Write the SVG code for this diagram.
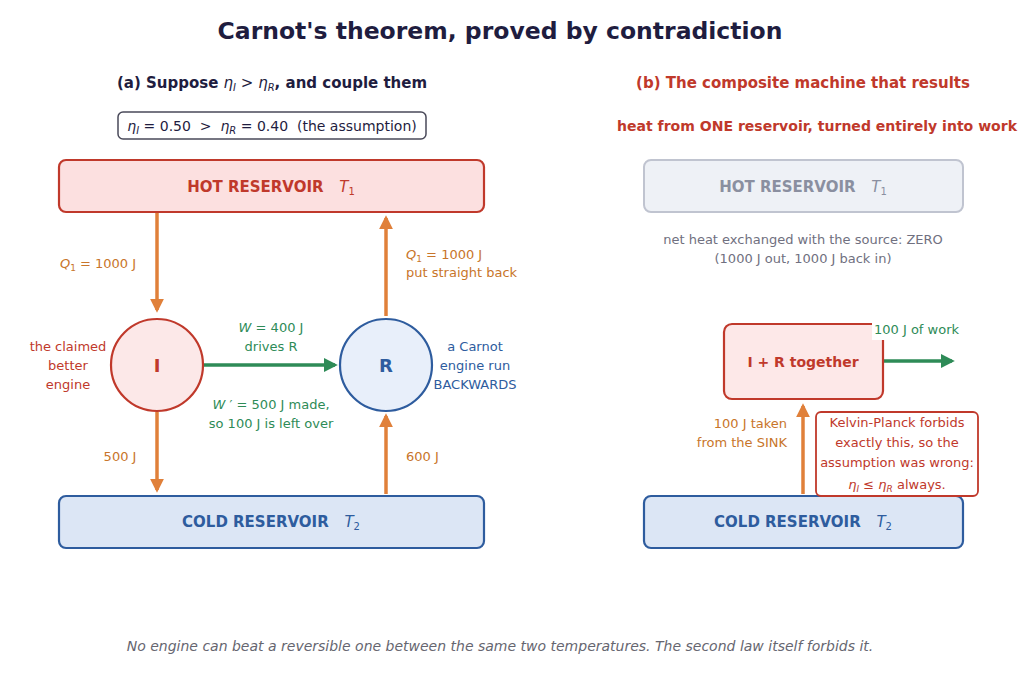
<svg xmlns="http://www.w3.org/2000/svg" width="1024" height="673" viewBox="0 0 1024 673">
<style>
text{font-family:"DejaVu Sans",sans-serif;white-space:pre}
.t{font-size:23.5px;font-weight:bold;fill:#1f1d3f}
.h{font-size:15px;font-weight:bold}
.s{font-size:13px}
.m{font-style:italic}
.or{fill:#c8752a}.gr{fill:#2e8b57}.rd{fill:#c0392b}.bl{fill:#2e5c9e}.gy{fill:#707080}
.ao{stroke:#e0803a;stroke-width:3.5;fill:none}
.ag{stroke:#2e8b57;stroke-width:3.5;fill:none}
</style>
<defs>
<marker id="mo" viewBox="0 0 10 10" refX="8" refY="5" markerWidth="4" markerHeight="4" orient="auto"><path d="M0,0L10,5L0,10z" fill="#e0803a"/></marker>
<marker id="mg" viewBox="0 0 10 10" refX="8" refY="5" markerWidth="4" markerHeight="4" orient="auto"><path d="M0,0L10,5L0,10z" fill="#2e8b57"/></marker>
</defs>
<rect width="1024" height="673" fill="#fff"/>
<text class="t" x="500" y="39" text-anchor="middle">Carnot's theorem, proved by contradiction</text>
<text class="h" x="272" y="88" text-anchor="middle" fill="#1f1d3f">(a) Suppose <tspan class="m" font-weight="normal">η</tspan><tspan class="m" font-weight="normal" font-size="10" dy="3">I</tspan><tspan dy="-3" font-weight="normal"> &gt; </tspan><tspan class="m" font-weight="normal">η</tspan><tspan class="m" font-weight="normal" font-size="10" dy="3">R</tspan><tspan dy="-3">, and couple them</tspan></text>
<rect x="118" y="112" width="308" height="27" rx="5" fill="#fff" stroke="#4a4a5a" stroke-width="1.5"/>
<text x="272" y="131" text-anchor="middle" font-size="14" fill="#1f1d3f"><tspan class="m">η</tspan><tspan class="m" font-size="10" dy="3">I</tspan><tspan dy="-3"> = 0.50  &gt;  </tspan><tspan class="m">η</tspan><tspan class="m" font-size="10" dy="3">R</tspan><tspan dy="-3"> = 0.40  (the assumption)</tspan></text>
<text class="h rd" x="803" y="88" text-anchor="middle" font-size="15.4">(b) The composite machine that results</text>
<text class="rd" x="817" y="131" text-anchor="middle" font-size="14" font-weight="bold" textLength="400" lengthAdjust="spacingAndGlyphs">heat from ONE reservoir, turned entirely into work</text>
<g id="connectors">
<line class="ao" x1="157" y1="212" x2="157" y2="310" marker-end="url(#mo)"/>
<line class="ao" x1="386" y1="316" x2="386" y2="218" marker-end="url(#mo)"/>
<line class="ag" x1="204" y1="365" x2="335" y2="365" marker-end="url(#mg)"/>
<line class="ao" x1="157" y1="412" x2="157" y2="490" marker-end="url(#mo)"/>
<line class="ao" x1="386" y1="494" x2="386" y2="416" marker-end="url(#mo)"/>
<line class="ao" x1="803" y1="494" x2="803" y2="406" marker-end="url(#mo)"/>
<line class="ag" x1="884" y1="361" x2="952" y2="361" marker-end="url(#mg)"/>
</g>
<g id="hot1"><rect x="59" y="160" width="425" height="52" rx="7" fill="#fce0e0" stroke="#c0392b" stroke-width="2.2"/><text class="h rd" x="271" y="192" text-anchor="middle" font-size="14">HOT RESERVOIR   <tspan class="m" font-weight="normal">T</tspan><tspan font-weight="normal" font-size="10" dy="3">1</tspan></text></g>
<g id="cold1"><rect x="59" y="496" width="425" height="52" rx="7" fill="#dce6f5" stroke="#2e5c9e" stroke-width="2.2"/><text class="h bl" x="271" y="527" text-anchor="middle" font-size="14">COLD RESERVOIR   <tspan class="m" font-weight="normal">T</tspan><tspan font-weight="normal" font-size="10" dy="3">2</tspan></text></g>
<g id="I"><circle cx="157" cy="365" r="46" fill="#fce8e8" stroke="#c0392b" stroke-width="2.2"/><text class="rd" x="157" y="372" text-anchor="middle" font-size="18" font-weight="bold">I</text></g>
<g id="R"><circle cx="386" cy="365" r="46" fill="#e8effa" stroke="#2e5c9e" stroke-width="2.2"/><text class="bl" x="386" y="372" text-anchor="middle" font-size="18" font-weight="bold">R</text></g>
<g id="hot2"><rect x="644" y="160" width="319" height="52" rx="7" fill="#eef1f6" stroke="#c0c4d0" stroke-width="2"/><text class="h" fill="#8a8fa0" x="803" y="192" text-anchor="middle" font-size="14">HOT RESERVOIR   <tspan class="m" font-weight="normal">T</tspan><tspan font-weight="normal" font-size="10" dy="3">1</tspan></text></g>
<g id="cold2"><rect x="644" y="496" width="319" height="52" rx="7" fill="#dce6f5" stroke="#2e5c9e" stroke-width="2.2"/><text class="h bl" x="803" y="527" text-anchor="middle" font-size="14">COLD RESERVOIR   <tspan class="m" font-weight="normal">T</tspan><tspan font-weight="normal" font-size="10" dy="3">2</tspan></text></g>
<g id="IR"><rect x="724" y="324" width="159" height="75" rx="8" fill="#fde8e8" stroke="#c0392b" stroke-width="2.2"/><text class="rd" x="803" y="367" text-anchor="middle" font-size="14" font-weight="bold">I + R together</text></g>
<g id="kp"><rect x="816" y="412" width="162" height="84" rx="5" fill="#fff" stroke="#c0392b" stroke-width="1.8"/>
<text class="s rd" text-anchor="middle"><tspan x="897" y="427">Kelvin-Planck forbids</tspan><tspan x="897" y="447">exactly this, so the</tspan><tspan x="897" y="467">assumption was wrong:</tspan><tspan x="897" y="489"><tspan class="m">η</tspan><tspan class="m" font-size="9" dy="3">I</tspan><tspan dy="-3"> ≤ </tspan><tspan class="m">η</tspan><tspan class="m" font-size="9" dy="3">R</tspan><tspan dy="-3"> always.</tspan></tspan></text></g>
<text class="s or" x="98" y="268" text-anchor="middle"><tspan class="m">Q</tspan><tspan font-size="9" dy="3">1</tspan><tspan dy="-3"> = 1000 J</tspan></text>
<text class="s or" x="406" y="259"><tspan class="m">Q</tspan><tspan font-size="9" dy="3">1</tspan><tspan dy="-3"> = 1000 J</tspan></text>
<text class="s or" x="406" y="277">put straight back</text>
<text class="s gr" x="271" y="332" text-anchor="middle"><tspan class="m">W</tspan> = 400 J</text>
<text class="s gr" x="271" y="351" text-anchor="middle">drives R</text>
<text class="s gr" x="271" y="409" text-anchor="middle"><tspan class="m">W</tspan> ′ = 500 J made,</text>
<text class="s gr" x="271" y="428" text-anchor="middle">so 100 J is left over</text>
<text class="s rd" text-anchor="middle"><tspan x="68" y="351">the claimed</tspan><tspan x="68" y="370">better</tspan><tspan x="68" y="389">engine</tspan></text>
<text class="s bl" text-anchor="middle"><tspan x="475" y="351">a Carnot</tspan><tspan x="475" y="370">engine run</tspan><tspan x="475" y="389">BACKWARDS</tspan></text>
<text class="s or" x="120" y="461" text-anchor="middle">500 J</text>
<text class="s or" x="406" y="461">600 J</text>
<text class="s gy" text-anchor="middle"><tspan x="803" y="244">net heat exchanged with the source: ZERO</tspan><tspan x="803" y="263">(1000 J out, 1000 J back in)</tspan></text>
<rect x="872" y="320" width="120" height="20" fill="#fff"/>
<text class="s gr" x="874" y="334">100 J of work</text>
<text class="s or" text-anchor="end"><tspan x="787" y="428">100 J taken</tspan><tspan x="787" y="447">from the SINK</tspan></text>
<text x="500" y="651" text-anchor="middle" font-size="14" font-style="italic" fill="#666670">No engine can beat a reversible one between the same two temperatures. The second law itself forbids it.</text>
</svg>
